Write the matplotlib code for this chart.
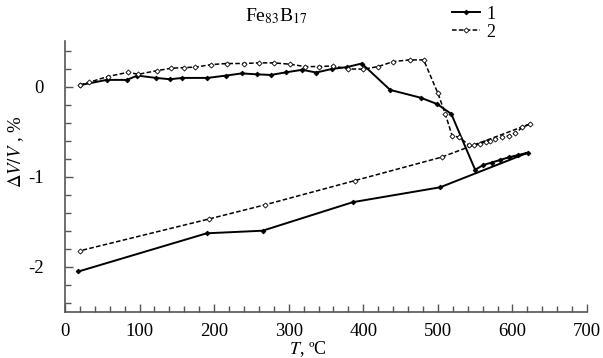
import matplotlib
matplotlib.use("Agg")
import matplotlib.pyplot as plt
from matplotlib.ticker import MultipleLocator

plt.rcParams['font.family'] = ['Liberation Serif', 'DejaVu Serif']
plt.rcParams['mathtext.fontset'] = 'stix'

title = r"Fe$_{\mathrm{83}}$B$_{\mathrm{17}}$"
labels = ["1", "2"]

s1_T = [20, 56, 83, 97, 122, 141, 157, 191, 216, 237, 257, 276, 297, 318, 337, 358, 378, 398,
        436, 477, 499, 518, 550, 561, 572, 584, 596, 608, 621,
        503, 386, 265, 190, 18]
s1_V = [0.02, 0.078, 0.078, 0.126, 0.10, 0.085, 0.10, 0.10, 0.126, 0.15, 0.14, 0.133, 0.163, 0.19, 0.16, 0.20, 0.22, 0.26,
        -0.033, -0.12, -0.19, -0.30, -0.92, -0.867, -0.84, -0.81, -0.78, -0.756, -0.73,
        -1.115, -1.28, -1.597, -1.626, -2.05]

s2_T = [20, 32, 57, 85, 98, 123, 142, 160, 175, 196, 217, 240, 260, 280, 302, 322, 340, 359, 380, 400,
        420, 440, 462, 481, 500, 510, 519, 529, 542, 548, 556, 564, 570, 577, 586, 595, 604, 613, 624,
        505, 389, 268, 193, 20]
s2_V = [0.02, 0.05, 0.115, 0.163, 0.14, 0.18, 0.207, 0.215, 0.22, 0.248, 0.26, 0.26, 0.267, 0.267, 0.252, 0.226, 0.226, 0.233, 0.20, 0.197,
        0.226, 0.281, 0.30, 0.30, -0.07, -0.30, -0.54, -0.56, -0.65, -0.65, -0.633, -0.61, -0.597, -0.58, -0.56, -0.544, -0.515, -0.45, -0.41,
        -0.78, -1.04, -1.31, -1.467, -1.82]

fig = plt.figure(figsize=(6.03, 3.58), dpi=100)
ax = fig.add_axes([65/603, 1-312/358, (587-65)/603, (312-41)/358])

l1, = ax.plot(s1_T, s1_V, '-', color='black', lw=1.4, marker='D', ms=2.4,
              mfc='black', mec='black', mew=0.6)
l2, = ax.plot(s2_T, s2_V, '--', color='black', lw=1.1, marker='D', ms=2.6,
              mfc='white', mec='black', mew=0.6, dashes=(3, 1.5))

ax.set_xlim(0, 700)
ax.set_ylim(-2.5, 0.51)
ax.xaxis.set_major_locator(MultipleLocator(100))
ax.xaxis.set_minor_locator(MultipleLocator(20))
ax.yaxis.set_minor_locator(MultipleLocator(0.2))
ax.set_yticks([0, -1, -2])
ax.set_yticklabels(['0', '-1', '-2'])

for s in ['top', 'right']:
    ax.spines[s].set_visible(False)
for s in ['left', 'bottom']:
    ax.spines[s].set_color('#555555')
    ax.spines[s].set_linewidth(1.2)

ax.tick_params(which='major', direction='in', length=6, width=1, color='#555555', labelsize=13.5)
ax.tick_params(which='minor', direction='in', length=4, width=1, color='#555555')
ax.tick_params(axis='x', which='major', pad=8)
ax.tick_params(axis='y', which='major', pad=15.5)

ax.set_xlabel(r"$T$, ºC", fontsize=13)
ax.xaxis.set_label_coords((308-65)/522, -(339-312)/271)
ax.set_ylabel(r"$\Delta V/V$ , %", fontsize=13.5)
ax.yaxis.set_label_coords(-(65-26)/522, (312-152)/271)

fig.text(276/603, 1-16/358, title, ha='center', va='center', fontsize=14)

fig.legend([l1, l2], labels, loc='upper left', bbox_to_anchor=(448/603, 1-2/358),
           frameon=False, fontsize=13, handlelength=1.6, handletextpad=0.3,
           labelspacing=0.05, borderaxespad=0, borderpad=0.2)

fig.savefig("out.png", dpi=100)
